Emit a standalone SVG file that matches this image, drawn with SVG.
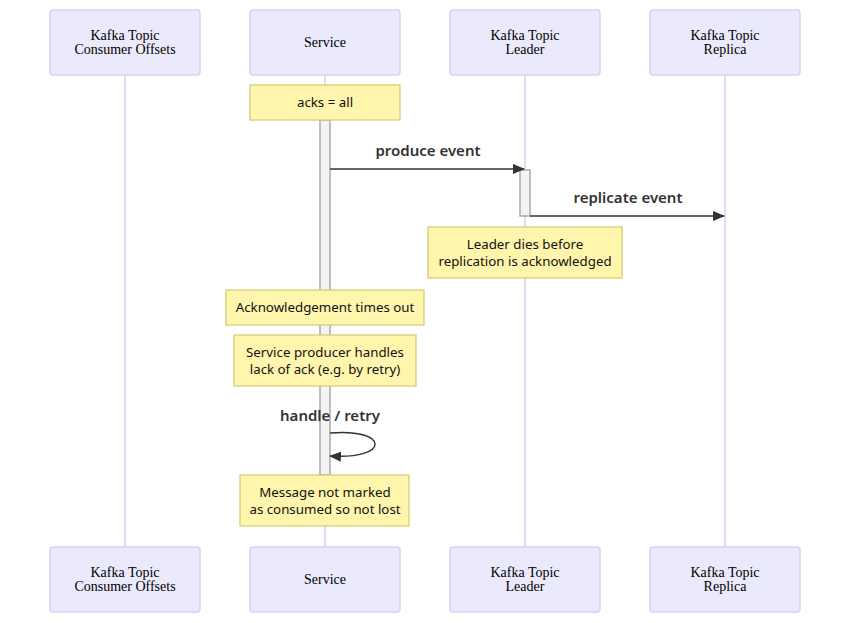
<svg xmlns="http://www.w3.org/2000/svg" width="850" height="623" viewBox="0 0 850 623">
<style>
.actor{fill:#eaeafc;stroke:#d6d1f5;stroke-width:1.5}
.atext{font-family:"Liberation Serif",serif;font-size:14px;fill:#000;text-anchor:middle}
.life{stroke:#d6d1f5;stroke-width:1.5}
.note{fill:#fff5ad;stroke:#cfca6e;stroke-width:1.2}
.ntext{font-family:"Noto Sans","DejaVu Sans",sans-serif;font-size:13.3px;fill:#111;text-anchor:middle}
.mtext{font-family:"Noto Sans","DejaVu Sans",sans-serif;font-size:15px;font-weight:600;fill:#333;text-anchor:middle}
.act{fill:#f4f4f4;stroke:#aaa;stroke-width:1.5}
.msg{stroke:#333;stroke-width:1.5;fill:none}
</style>
<defs>
<marker id="arrow" viewBox="0 0 12 10" refX="11" refY="5" markerWidth="12" markerHeight="10" markerUnits="userSpaceOnUse" orient="auto">
<path d="M0,0 L12,5 L0,10 z" fill="#333"/>
</marker>
</defs>
<rect width="850" height="623" fill="#fff"/>
<g id="lifelines">
<line class="life" x1="125" y1="75" x2="125" y2="547"/>
<line class="life" x1="325" y1="75" x2="325" y2="547"/>
<line class="life" x1="525" y1="75" x2="525" y2="547"/>
<line class="life" x1="725" y1="75" x2="725" y2="547"/>
</g>
<g id="actor-offsets-top"><rect class="actor" x="50" y="10" width="150" height="65" rx="3"/><text class="atext" x="125" y="40">Kafka Topic</text><text class="atext" x="125" y="54">Consumer Offsets</text></g>
<g id="actor-service-top"><rect class="actor" x="250" y="10" width="150" height="65" rx="3"/><text class="atext" x="325" y="47">Service</text></g>
<g id="actor-leader-top"><rect class="actor" x="450" y="10" width="150" height="65" rx="3"/><text class="atext" x="525" y="40">Kafka Topic</text><text class="atext" x="525" y="54">Leader</text></g>
<g id="actor-replica-top"><rect class="actor" x="650" y="10" width="150" height="65" rx="3"/><text class="atext" x="725" y="40">Kafka Topic</text><text class="atext" x="725" y="54">Replica</text></g>
<g id="actor-offsets-bottom"><rect class="actor" x="50" y="547" width="150" height="65" rx="3"/><text class="atext" x="125" y="577">Kafka Topic</text><text class="atext" x="125" y="591">Consumer Offsets</text></g>
<g id="actor-service-bottom"><rect class="actor" x="250" y="547" width="150" height="65" rx="3"/><text class="atext" x="325" y="584">Service</text></g>
<g id="actor-leader-bottom"><rect class="actor" x="450" y="547" width="150" height="65" rx="3"/><text class="atext" x="525" y="577">Kafka Topic</text><text class="atext" x="525" y="591">Leader</text></g>
<g id="actor-replica-bottom"><rect class="actor" x="650" y="547" width="150" height="65" rx="3"/><text class="atext" x="725" y="577">Kafka Topic</text><text class="atext" x="725" y="591">Replica</text></g>
<g id="activation-service"><rect class="act" x="320" y="120" width="10" height="355"/></g>
<g id="activation-leader"><rect class="act" x="520" y="170" width="10" height="46"/></g>
<g id="connectors">
<line class="msg" x1="330" y1="169" x2="524" y2="169" marker-end="url(#arrow)"/>
<text class="mtext" x="428" y="156">produce event</text>
<line class="msg" x1="530" y1="216" x2="724" y2="216" marker-end="url(#arrow)"/>
<text class="mtext" x="628" y="203">replicate event</text>
<path class="msg" d="M330,433 C390,428 390,460 330,456" marker-end="url(#arrow)"/>
<text class="mtext" x="330" y="421">handle / retry</text>
</g>
<g id="note-acks"><rect class="note" x="250" y="85" width="150" height="35"/><text class="ntext" x="325" y="107">acks = all</text></g>
<g id="note-leader-dies"><rect class="note" x="428" y="227" width="194" height="51"/><text class="ntext" x="525" y="249">Leader dies before</text><text class="ntext" x="525" y="266">replication is acknowledged</text></g>
<g id="note-ack-timeout"><rect class="note" x="226" y="290" width="198" height="35"/><text class="ntext" x="325" y="312">Acknowledgement times out</text></g>
<g id="note-producer-handles"><rect class="note" x="234" y="335" width="182" height="51"/><text class="ntext" x="325" y="357">Service producer handles</text><text class="ntext" x="325" y="374">lack of ack (e.g. by retry)</text></g>
<g id="note-not-lost"><rect class="note" x="240" y="475" width="169" height="51"/><text class="ntext" x="325" y="497">Message not marked</text><text class="ntext" x="325" y="514">as consumed so not lost</text></g>
</svg>
